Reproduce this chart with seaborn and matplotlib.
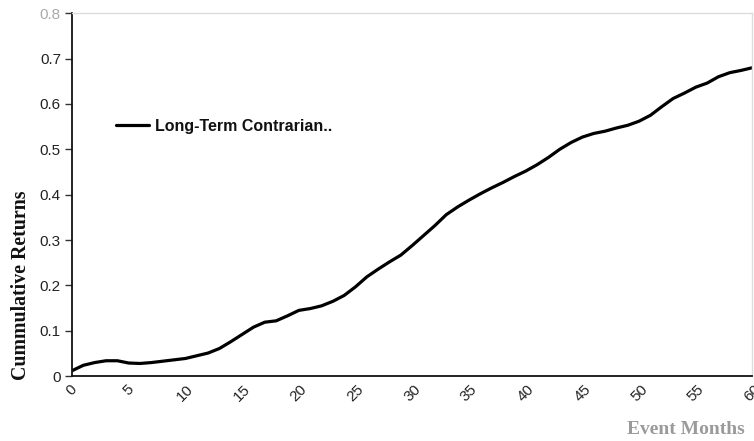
import numpy as np
import pandas as pd
import matplotlib
matplotlib.use("Agg")
import matplotlib.pyplot as plt
import seaborn as sns

months = list(range(0, 61))
returns = [0.012, 0.024, 0.030, 0.034, 0.034, 0.029, 0.028, 0.030, 0.033, 0.036,
           0.039, 0.045, 0.051, 0.061, 0.076, 0.092, 0.108, 0.119, 0.122, 0.133,
           0.145, 0.149, 0.155, 0.165, 0.178, 0.197, 0.219, 0.236, 0.252, 0.267,
           0.288, 0.310, 0.332, 0.356, 0.373, 0.388, 0.402, 0.415, 0.427, 0.440,
           0.452, 0.466, 0.482, 0.500, 0.515, 0.527, 0.535, 0.540, 0.547, 0.553,
           0.562, 0.575, 0.594, 0.612, 0.624, 0.637, 0.646, 0.660, 0.669, 0.674,
           0.680]
series_name = "Long-Term Contrarian.."
y_ticks = [0, 0.1, 0.2, 0.3, 0.4, 0.5, 0.6, 0.7, 0.8]
y_tick_labels = ["0", "0.1", "0.2", "0.3", "0.4", "0.5", "0.6", "0.7", "0.8"]
x_ticks = list(range(0, 61, 5))

df = pd.DataFrame({"Event Months": months, "Cumulative": returns, "Series": series_name})

sns.set_style("white")
plt.rcParams["font.family"] = ["Liberation Sans", "DejaVu Sans"]

fig = plt.figure(figsize=(7.54, 4.41), dpi=100)
ax = fig.add_axes([0.0955, 0.147, 0.9025, 0.823])

sns.lineplot(data=df, x="Event Months", y="Cumulative", hue="Series",
             palette=["black"], linewidth=2.3, ax=ax)

ax.set_xlim(0, 60)
ax.set_ylim(0, 0.8)
ax.set_yticks(y_ticks)
ax.set_yticklabels(y_tick_labels, fontsize=11)
for lbl in ax.get_yticklabels():
    lbl.set_color("#222222")
ax.get_yticklabels()[-1].set_color("#aaaaaa")
ax.set_xticks(x_ticks)
ax.set_xticklabels([str(t) for t in x_ticks], rotation=45, ha="center",
                   va="top", fontsize=11, color="#222222")
ax.tick_params(axis="y", length=5, width=1, color="#333333", left=True, pad=3)
ax.tick_params(axis="x", length=0, pad=4)

for s in ["left", "bottom"]:
    ax.spines[s].set_color("#111111")
    ax.spines[s].set_linewidth(1.3)
for s in ["top", "right"]:
    ax.spines[s].set_color("#dddddd")
    ax.spines[s].set_linewidth(1.0)

ax.set_xlabel("")
ax.set_ylabel("Cummulative Returns", family=["Liberation Serif"], fontweight="bold",
              fontsize=14.3, color="#111111")
ax.yaxis.set_label_coords(-0.060, 0.25)
fig.text(0.91, 0.025, "Event Months", family=["Liberation Serif"], fontweight="bold",
         fontsize=14, color="#9a9a9a", ha="center", va="center")

leg = ax.legend(loc="center left", bbox_to_anchor=(0.044, 0.688), frameon=False,
                handlelength=2.05, handletextpad=0.35,
                prop={"weight": "bold", "size": 11.5})
for t in leg.get_texts():
    t.set_color("#111111")

fig.savefig("out.png", dpi=100)
